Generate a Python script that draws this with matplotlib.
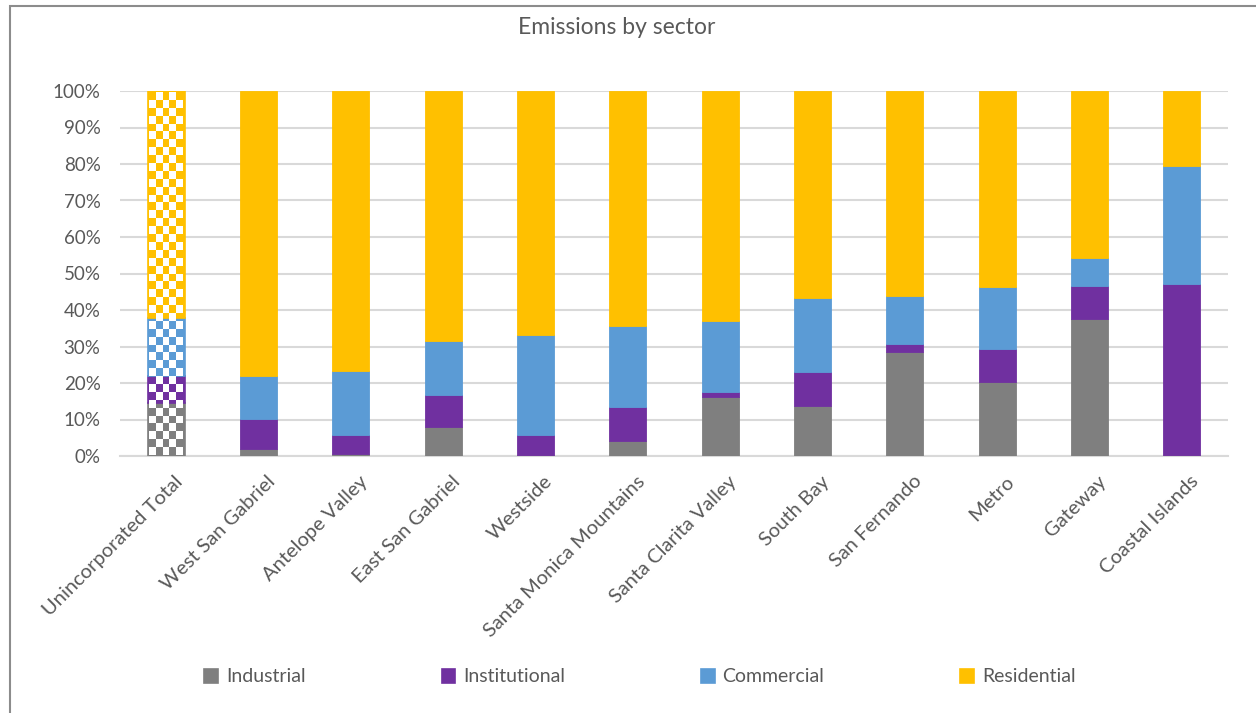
import numpy as np
import matplotlib
matplotlib.use("Agg")
import matplotlib.pyplot as plt
from matplotlib.patches import Rectangle

plt.rcParams['font.family'] = ['Lato', 'DejaVu Sans']

categories = ["Unincorporated Total", "West San Gabriel", "Antelope Valley", "East San Gabriel",
              "Westside", "Santa Monica Mountains", "Santa Clarita Valley", "South Bay",
              "San Fernando", "Metro", "Gateway", "Coastal Islands"]
industrial = [14.5, 1.8, 0.5, 8.0, 0.2, 4.1, 16.2, 13.7, 28.5, 20.3, 37.5, 0.3]
institutional = [7.4, 8.3, 5.2, 8.7, 5.6, 9.3, 1.4, 9.3, 2.3, 9.1, 9.2, 46.9]
commercial = [15.9, 11.8, 17.6, 14.8, 27.4, 22.3, 19.5, 20.4, 13.1, 17.0, 7.6, 32.3]
residential = [62.2, 78.1, 76.7, 68.5, 66.8, 64.3, 62.9, 56.6, 56.1, 53.6, 45.7, 20.5]

series = [("Industrial", industrial, "#7f7f7f"),
          ("Institutional", institutional, "#7030a0"),
          ("Commercial", commercial, "#5b9bd5"),
          ("Residential", residential, "#ffc000")]

W, H = 1256, 713
fig = plt.figure(figsize=(W / 100, H / 100), dpi=100)
ax = fig.add_axes([120 / W, 1 - 456 / H, 1108 / W, 365 / H])

x = np.arange(len(categories))
bottom = np.zeros(len(categories))
handles = []
first_bar_patches = []
for name, vals, col in series:
    v = np.array(vals) / 100.0
    bars = ax.bar(x, v, width=0.4, bottom=bottom, color=col, edgecolor=col,
                  linewidth=0.6, label=name, zorder=3)
    bars[0].set_linewidth(1.2)
    first_bar_patches.append(bars[0])
    handles.append(bars)
    bottom += v

# checkerboard overlay on the first (total) bar
p0 = first_bar_patches[0]
x0, w0 = p0.get_x(), p0.get_width()
nx, ny = 5, 46
checker = np.zeros((ny, nx, 4))
for i in range(ny):
    for j in range(nx):
        if (i + j) % 2 == 0:
            checker[i, j] = [1, 1, 1, 1]
inset = w0 * 0.04
ax.imshow(checker, extent=(x0 + inset, x0 + w0 - inset, 0.003, bottom[0] - 0.003),
          origin='lower', aspect='auto', interpolation='nearest', zorder=4)

ax.set_xlim(-0.5, len(categories) - 0.5)
ax.set_ylim(0, 1)
ticks = np.arange(0, 1.01, 0.1)
ax.set_yticks(ticks)
ax.set_yticklabels([f"{int(round(t * 100))}%" for t in ticks])
ax.yaxis.grid(True, color="#d9d9d9", linewidth=1.5, zorder=0)
ax.set_axisbelow(True)
for s in ["top", "right", "left"]:
    ax.spines[s].set_visible(False)
ax.spines["bottom"].set_color("#d9d9d9")
ax.spines["bottom"].set_linewidth(1.5)
ax.tick_params(axis='y', length=0, colors="#595959", labelsize=13.5, pad=14)
ax.set_xticks(x)
ax.set_xticklabels(categories, rotation=45, ha='right', rotation_mode='anchor')
ax.tick_params(axis='x', length=0, colors="#595959", labelsize=14.5, pad=12)
for lbl in ax.get_xticklabels():
    lbl.set_x(lbl.get_position()[0])
offset = matplotlib.transforms.ScaledTranslation(8 / 100, 0, fig.dpi_scale_trans)
for lbl in ax.get_xticklabels():
    lbl.set_transform(lbl.get_transform() + offset)

fig.text(617 / W, 1 - 28 / H, "Emissions by sector", ha='center', va='center',
         fontsize=16.5, color="#595959")

fig.legend([h[0] for h in handles], [s[0] for s in series], loc='center',
           bbox_to_anchor=(640 / W, 1 - 677 / H), ncol=4, frameon=False,
           fontsize=14, labelcolor="#595959", handlelength=0.7, handleheight=0.7,
           handletextpad=0.4, columnspacing=7.0)

fig.patches.append(Rectangle((9.5 / W, -0.1), 1.2, 1.1 - 6.5 / H, transform=fig.transFigure,
                             fill=False, edgecolor="#8c8c8c", linewidth=1.5))

fig.savefig("out.png", dpi=100)
